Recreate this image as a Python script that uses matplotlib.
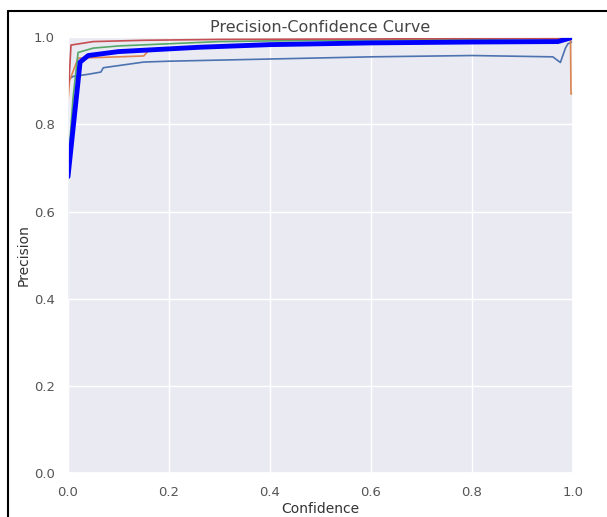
"""Precision-confidence curve, per class plus the all-classes line."""

import matplotlib
matplotlib.use("Agg")
import matplotlib.pyplot as plt
from matplotlib.lines import Line2D
import seaborn as sns

# --- values ---
conf_c0 = [0.0, 0.0, 0.003, 0.01, 0.04, 0.065, 0.07, 0.15, 0.2, 0.4, 0.6, 0.8, 0.96, 0.975, 0.985, 0.99, 1.0]
prec_c0 = [0.40, 0.90, 0.905, 0.91, 0.915, 0.92, 0.93, 0.943, 0.945, 0.95, 0.955, 0.958, 0.955, 0.942, 0.975, 0.985, 0.99]

conf_c1 = [0.0, 0.003, 0.02, 0.1, 0.15, 0.16, 0.3, 0.5, 0.8, 0.98, 0.995, 0.996, 1.0]
prec_c1 = [0.85, 0.90, 0.952, 0.955, 0.957, 0.97, 0.98, 0.985, 0.99, 0.995, 0.995, 0.87, 0.87]

conf_c2 = [0.0, 0.01, 0.02, 0.05, 0.1, 0.3, 0.5, 0.8, 1.0]
prec_c2 = [0.70, 0.86, 0.965, 0.975, 0.98, 0.99, 0.993, 0.995, 0.998]

conf_c3 = [0.0, 0.002, 0.006, 0.05, 0.15, 0.3, 0.6, 1.0]
prec_c3 = [0.88, 0.90, 0.982, 0.99, 0.993, 0.995, 0.996, 0.998]

conf_all = [0.0, 0.024, 0.04, 0.1, 0.26, 0.4, 0.6, 0.8, 0.97, 1.0]
prec_all = [0.68, 0.943, 0.958, 0.967, 0.977, 0.983, 0.987, 0.989, 0.99, 1.0]

sns.set_theme(style="darkgrid")

fig = plt.figure(figsize=(6.07, 5.17), dpi=100)
ax = fig.add_axes([0.112, 0.085, 0.832, 0.843])

ax.plot(conf_c0, prec_c0, linewidth=1.2, color="#4C72B0")
ax.plot(conf_c1, prec_c1, linewidth=1.2, color="#DD8452")
ax.plot(conf_c2, prec_c2, linewidth=1.2, color="#55A868")
ax.plot(conf_c3, prec_c3, linewidth=1.2, color="#C44E52")
ax.plot(conf_all, prec_all, linewidth=3.5, color="blue")

ax.set_xlim(0, 1)
ax.set_ylim(0, 1)
ax.set_xticks([0, 0.2, 0.4, 0.6, 0.8, 1.0])
ax.set_yticks([0, 0.2, 0.4, 0.6, 0.8, 1.0])
ax.tick_params(labelsize=9.5, colors="#555555")
ax.set_xlabel("Confidence", fontsize=10, labelpad=2, color="#333333")
ax.set_ylabel("Precision", fontsize=10, labelpad=2, color="#333333")
ax.set_title("Precision-Confidence Curve", fontsize=11.5, pad=4, color="#444444")

# screenshot frame around the chart
fig.add_artist(Line2D([0.013, 0.013], [0.0, 0.979], color="black", linewidth=1.5))
fig.add_artist(Line2D([0.013, 1.0], [0.979, 0.979], color="black", linewidth=1.5))

fig.savefig("out.png", dpi=100)
plt.close(fig)
